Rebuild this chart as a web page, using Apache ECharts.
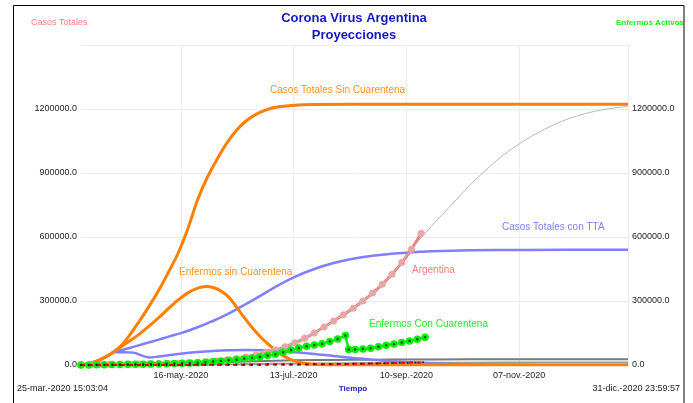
<!DOCTYPE html>
<html>
<head>
<meta charset="utf-8">
<script src="https://cdn.jsdelivr.net/npm/echarts@6/dist/echarts.min.js"></script>
<style>
  html, body { margin: 0; padding: 0; background: #fff; }
  #chart { width: 693px; height: 403px; }
</style>
</head>
<body>
<div id="chart"></div>
<script>
// eje x: dias desde 25-mar.-2020 15:03:04
var diaFin = 281.373;
var diasEtiqueta = [51.373, 109.373, 167.373, 225.373];
var etiquetasFecha = ['16-may.-2020', '13-jul.-2020', '10-sep.-2020', '07-nov.-2020'];

// Casos Totales Sin Cuarentena
var sinCuarDias = [0, 5, 10, 15, 20, 25, 30, 35, 40, 45, 50, 55, 60, 65, 70, 75, 80, 85, 90, 95, 100, 110, 120, 140, 281.373];
var sinCuarTotal = [0, 8000, 25000, 50000, 85000, 140000, 205000, 275000, 350000, 435000, 525000, 640000, 775000, 880000, 965000, 1040000, 1100000, 1145000, 1175000, 1195000, 1208000, 1218000, 1221000, 1222000, 1222000];

// Enfermos sin Cuarentena
var sinCuarEnfDias = [0, 5, 10, 15, 20, 25, 30, 35, 40, 45, 50, 55, 60, 64, 68, 72, 76, 80, 84, 88, 92, 96, 100, 104, 108, 112, 116, 120, 130, 281.373];
var sinCuarEnf = [0, 8000, 25000, 50000, 82000, 112000, 145000, 182000, 222000, 265000, 305000, 338000, 360000, 368000, 363000, 347000, 318000, 272000, 222000, 176000, 135000, 100000, 70000, 44000, 25000, 13000, 6000, 3000, 0, 0];

// Casos Totales con TTA
var ttaDias = [0, 5, 10, 15, 17, 20, 25, 30, 35, 40, 45, 51, 60, 70, 80, 90, 100, 110, 120, 130, 140, 150, 160, 170, 180, 200, 230, 281.373];
var ttaTotal = [0, 8000, 25000, 50000, 60000, 68000, 80000, 93000, 106000, 119000, 133000, 148000, 177000, 215000, 261000, 312000, 366000, 413000, 450000, 478000, 498000, 512000, 522000, 528000, 533000, 538000, 539500, 540000];

// Enfermos con TTA
var ttaEnfDias = [0, 5, 10, 15, 17, 22, 27, 31, 35, 40, 45, 51, 60, 68, 76, 85, 93, 100, 110, 120, 130, 140, 150, 160, 167, 180, 190, 200, 215, 234];
var ttaEnf = [0, 8000, 25000, 50000, 60000, 60000, 58000, 45000, 35000, 40000, 46000, 53000, 61000, 66000, 69000, 70000, 69000, 66000, 60000, 52000, 42000, 33000, 25000, 18000, 14000, 8000, 5000, 3000, 1500, 500];

// Argentina (casos reales)
var argDias = [0, 5, 10, 15, 20, 25, 30, 35, 40, 45, 50, 55, 60, 65, 70, 75, 80, 85, 90, 95, 100, 105, 110, 115, 120, 125, 130, 135, 140, 145, 150, 155, 160, 165, 170, 175];
var argCasos = [0, 700, 1500, 2500, 3300, 4000, 4500, 5200, 6000, 7000, 8000, 9500, 12000, 15000, 19000, 24000, 31000, 38000, 47000, 58000, 70000, 86000, 104000, 125000, 150000, 178000, 206000, 235000, 266000, 300000, 337000, 378000, 425000, 480000, 542000, 617000];

// proyeccion ajustada a Argentina
var proyDias = [0, 20, 40, 60, 80, 100, 110, 120, 130, 140, 150, 160, 170, 178, 191, 200, 208, 217, 226, 234, 243, 251, 260, 268, 277, 281.373];
var proyCasos = [0, 3000, 6000, 12000, 31000, 70000, 104000, 150000, 206000, 266000, 337000, 425000, 542000, 628000, 755000, 842000, 912000, 982000, 1040000, 1084000, 1125000, 1155000, 1180000, 1196000, 1208000, 1213000];

// Enfermos Con Cuarentena
var conCuarDias = [0, 4, 8, 12, 16, 20, 24, 28, 32, 36, 40, 44, 48, 52, 56, 60, 64, 68, 72, 76, 80, 84, 88, 92, 96, 100, 104, 108, 112, 116, 120, 124, 128, 132, 136, 137.7, 141, 145, 149, 153, 157, 161, 165, 169, 173, 177];
var conCuarEnf = [0, 500, 1000, 1500, 2000, 2500, 3000, 3500, 4000, 4500, 5000, 6000, 7000, 8000, 9500, 11000, 13000, 16000, 19000, 22000, 25000, 29000, 33000, 38000, 44000, 50000, 60000, 70000, 80000, 88000, 94000, 100000, 110000, 122000, 138000, 73000, 73000, 75000, 79000, 86000, 92000, 98000, 106000, 113000, 121000, 130000];

// Fallecidos Argentina
var muertesDias = [0, 4, 8, 12, 16, 20, 24, 28, 32, 36, 40, 44, 48, 52, 56, 60, 64, 68, 72, 76, 80, 84, 88, 92, 96, 100, 104, 108, 112, 116, 120, 124, 128, 132, 136, 140, 144, 148, 152, 156, 160, 164, 168, 172, 176];
var muertes = [0, 20, 50, 100, 140, 180, 200, 250, 300, 330, 360, 400, 450, 500, 550, 600, 650, 750, 850, 1000, 1100, 1250, 1400, 1600, 1800, 1900, 2100, 2400, 2600, 2900, 3200, 3500, 3800, 4200, 4800, 5400, 6000, 6700, 7400, 8300, 9200, 10000, 10900, 11600, 12500];

// Fallecidos proyectados
var muertesSinDias = [0, 20, 40, 60, 80, 100, 120, 140, 160, 200, 240, 281.373];
var muertesSin = [0, 1000, 4000, 9000, 15000, 20000, 23000, 24500, 25500, 26500, 27000, 27500];
var muertesTtaDias = [0, 40, 80, 120, 160, 200, 240, 281.373];
var muertesTta = [0, 1500, 4000, 7000, 9500, 11000, 11800, 12000];

function pares(xs, ys) {
    return xs.map(function (x, i) { return [x, ys[i]]; });
}

var chart = echarts.init(document.getElementById('chart'));
var fuente = 'Liberation Sans, Arial, sans-serif';
var gris = '#ececec';

function linea(nombre, xs, ys, color, ancho, extra) {
    var s = {
        name: nombre, type: 'line', smooth: 0.35, showSymbol: false,
        data: pares(xs, ys),
        lineStyle: { color: color, width: ancho }
    };
    for (var k in extra) s[k] = extra[k];
    return s;
}

var option = {
    animation: false,
    backgroundColor: '#fff',
    grid: { left: 81, right: 65, top: 45, bottom: 38 },
    xAxis: {
        type: 'value',
        min: 0,
        max: diaFin,
        axisLine: { show: false },
        axisTick: { show: false, customValues: diasEtiqueta },
        axisLabel: {
            customValues: diasEtiqueta,
            fontSize: 9,
            fontFamily: fuente,
            color: '#222',
            margin: 6,
            formatter: function (v) {
                var i = diasEtiqueta.findIndex(function (d) { return Math.abs(d - v) < 0.01; });
                return i >= 0 ? etiquetasFecha[i] : '';
            }
        },
        splitLine: { show: true, lineStyle: { color: gris } }
    },
    yAxis: [
        {
            type: 'value',
            min: 0,
            max: 1500000,
            interval: 300000,
            axisLine: { show: false },
            axisTick: { show: false },
            axisLabel: {
                fontSize: 9, fontFamily: fuente, color: '#222', margin: 4,
                formatter: function (v) { return v >= 1500000 ? '' : v.toFixed(1); }
            },
            splitLine: { lineStyle: { color: gris } }
        },
        {
            type: 'value',
            position: 'right',
            min: 0,
            max: 1500000,
            interval: 300000,
            axisLine: { show: true, lineStyle: { color: gris } },
            axisTick: { show: false },
            axisLabel: {
                fontSize: 9, fontFamily: fuente, color: '#222', margin: 4,
                formatter: function (v) { return v >= 1500000 ? '' : v.toFixed(1); }
            },
            splitLine: { show: false }
        }
    ],
    series: [
        linea('Fallecidos Sin Cuarentena', muertesSinDias, muertesSin, '#7a7a7a', 2, { z: 2 }),
        linea('Fallecidos con TTA', muertesTtaDias, muertesTta, '#9a9a9a', 2, { z: 2 }),
        linea('Casos Totales con TTA', ttaDias, ttaTotal, '#7f7fff', 2.5, { z: 3 }),
        linea('Enfermos con TTA', ttaEnfDias, ttaEnf, '#7f7fff', 2.5, { z: 3 }),
        linea('Casos Totales Sin Cuarentena', sinCuarDias, sinCuarTotal, '#ff8000', 3, { z: 4 }),
        linea('Enfermos sin Cuarentena', sinCuarEnfDias, sinCuarEnf, '#ff8000', 3, { z: 4 }),
        linea('Argentina', argDias, argCasos, '#f08080', 3, {
            z: 5, showSymbol: true, symbol: 'circle', symbolSize: 7,
            itemStyle: { color: '#f4a3a3' }
        }),
        linea('Proyeccion Argentina', proyDias, proyCasos, '#b9b9b9', 1, { z: 6 }),
        linea('Enfermos Con Cuarentena', conCuarDias, conCuarEnf, '#00ee00', 2.5, {
            z: 7, smooth: false, showSymbol: true, symbol: 'circle', symbolSize: 5,
            itemStyle: { color: '#0d4d0d', borderColor: '#00ee00', borderWidth: 2.5 }
        }),
        linea('Fallecidos Argentina', muertesDias, muertes, '#e00000', 2, {
            z: 8, showSymbol: true, symbol: 'circle', symbolSize: 2,
            itemStyle: { color: '#500000' },
            lineStyle: { color: '#e00000', width: 2, type: [4, 4] }
        })
    ],
    graphic: [
        { type: 'text', x: 354, y: 18, style: { text: 'Corona Virus Argentina', fill: '#1616c8', font: 'bold 13px ' + fuente, textAlign: 'center', textVerticalAlign: 'middle' } },
        { type: 'text', x: 354, y: 35, style: { text: 'Proyecciones', fill: '#1616c8', font: 'bold 13px ' + fuente, textAlign: 'center', textVerticalAlign: 'middle' } },
        { type: 'text', x: 31, y: 23, style: { text: 'Casos Totales', fill: '#ff8080', font: '9px ' + fuente, textVerticalAlign: 'middle' } },
        { type: 'text', x: 684, y: 23, style: { text: 'Enfermos Activos', fill: '#22ee22', font: 'bold 8px ' + fuente, textAlign: 'right', textVerticalAlign: 'middle' } },
        { type: 'text', x: 270, y: 90, style: { text: 'Casos Totales Sin Cuarentena', fill: '#ff9326', font: '10px ' + fuente, textVerticalAlign: 'middle' } },
        { type: 'text', x: 179, y: 272, style: { text: 'Enfermos sin Cuarentena', fill: '#ff9326', font: '10px ' + fuente, textVerticalAlign: 'middle' } },
        { type: 'text', x: 502, y: 227, style: { text: 'Casos Totales con TTA', fill: '#8080ff', font: '10px ' + fuente, textVerticalAlign: 'middle' } },
        { type: 'text', x: 412, y: 270, style: { text: 'Argentina', fill: '#f08080', font: '10px ' + fuente, textVerticalAlign: 'middle' } },
        { type: 'text', x: 369, y: 324, style: { text: 'Enfermos Con Cuarentena', fill: '#22ee22', font: '10px ' + fuente, textVerticalAlign: 'middle' } },
        { type: 'text', x: 17, y: 389, style: { text: '25-mar.-2020 15:03:04', fill: '#222', font: '9px ' + fuente, textVerticalAlign: 'middle' } },
        { type: 'text', x: 353, y: 389, style: { text: 'Tiempo', fill: '#1616c8', font: 'bold 8px ' + fuente, textAlign: 'center', textVerticalAlign: 'middle' } },
        { type: 'text', x: 680, y: 389, style: { text: '31-dic.-2020 23:59:57', fill: '#222', font: '9px ' + fuente, textAlign: 'right', textVerticalAlign: 'middle' } },
        { type: 'rect', shape: { x: 13.5, y: 5.5, width: 670.5, height: 420 }, style: { stroke: '#000', fill: 'none', lineWidth: 1 }, z: 100 }
    ]
};

chart.setOption(option);
</script>
</body>
</html>
